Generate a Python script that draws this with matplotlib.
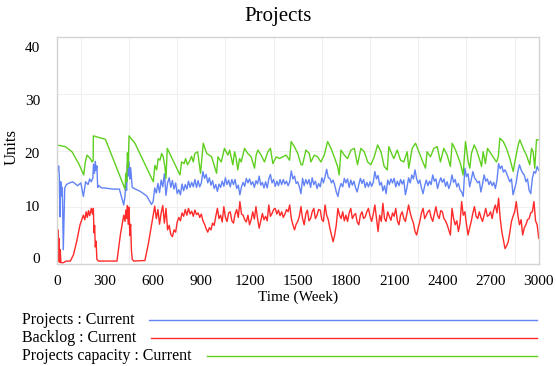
import numpy as np
import matplotlib
matplotlib.use("Agg")
import matplotlib.pyplot as plt
from matplotlib.lines import Line2D

plt.rcParams['font.family'] = ['Liberation Serif', 'DejaVu Serif']

# ---- data (time in weeks, value in units) ----
# start-up phase, irregular breakpoints
proj_t0 = [0, 3, 8, 12, 16, 20, 25, 30, 35, 41, 50, 60, 80, 100, 130, 150, 166, 180, 195, 205,
           215, 225, 229, 235, 240, 245, 250, 255, 262, 280, 300, 350, 390, 417, 425, 430, 435,
           440, 445, 450, 455, 460, 470, 490, 520, 560, 590]
proj_v0 = [12.0, 17.2, 16.5, 17.3, 15.5, 8.3, 14.5, 12.0, 13.5, 2.5, 13.4, 14.0, 14.3, 14.5, 13.8,
           14.3, 11.9, 14.5, 14.0, 15.0, 14.5, 15.2, 17.6, 16.0, 18.1, 16.5, 17.3, 13.5, 13.8,
           13.4, 13.4, 13.2, 13.2, 10.4, 12.0, 14.5, 13.0, 17.5, 15.5, 18.0, 15.0, 17.0, 13.5,
           13.2, 12.8, 12.0, 10.5]

back_t0 = [0, 3, 5, 8, 11, 14, 18, 22, 26, 40, 60, 85, 104, 124, 145, 166, 175, 183, 190, 198,
           205, 215, 222, 228, 232, 236, 240, 245, 250, 260, 375, 396, 417, 425, 430, 436, 440,
           445, 450, 455, 460, 465, 470, 480, 549, 570, 590]
back_v0 = [7.8, 5.5, 0.3, 6.0, 0.5, 4.5, 0.3, 2.5, 0.2, 0.2, 0.5, 0.5, 1.6, 3.9, 6.9, 8.6, 7.8,
           9.2, 8.2, 9.4, 8.5, 9.8, 8.8, 9.8, 5.5, 6.8, 3.0, 4.0, 0.8, 0.5, 0.5, 5.1, 8.6, 7.5,
           9.5, 8.0, 10.3, 7.0, 10.0, 5.0, 7.0, 2.5, 0.8, 0.5, 0.6, 3.5, 6.8]

# weeks 600..3000, every 10 weeks
proj_v1 = [11.0, 13.4, 12.5, 14.2, 12.6, 14.8, 13.6, 15.9, 12.1, 14.3,
           15.2, 13.5, 14.7, 13.2, 14.3, 12.4, 13.1, 12.2, 14.1, 12.9,
           14.0, 13.2, 14.6, 13.5, 14.4, 13.6, 14.9, 13.5, 14.7, 13.6,
           14.3, 16.3, 15.1, 15.8, 14.3, 15.2, 13.9, 14.7, 13.3, 14.0,
           12.8, 14.1, 13.5, 14.6, 13.7, 15.2, 14.0, 14.8, 13.6, 14.9,
           14.0, 14.9, 13.3, 13.9, 12.2, 13.6, 14.4, 13.7, 15.1, 14.3,
           15.0, 14.0, 14.5, 13.5, 14.7, 14.1, 15.5, 13.9, 14.4, 13.4,
           14.5, 13.4, 15.0, 15.8, 14.3, 14.9, 13.7, 14.6, 13.8, 14.9,
           14.0, 14.9, 14.1, 14.6, 13.8, 14.5, 16.4, 15.0, 15.5, 14.2,
           14.5, 13.6, 12.4, 15.1, 13.8, 14.9, 14.1, 14.9, 13.5, 15.2,
           14.0, 14.6, 13.3, 14.2, 13.6, 15.2, 14.3, 15.4, 16.7, 15.2,
           15.1, 14.3, 14.8, 13.9, 12.7, 11.9, 13.4, 14.2, 13.6, 15.1,
           14.3, 15.0, 13.5, 14.8, 13.9, 14.6, 13.4, 12.7, 14.0, 15.1,
           14.2, 14.9, 13.5, 14.4, 13.6, 14.5, 13.7, 14.4, 16.3, 15.0,
           15.6, 13.9, 14.4, 12.9, 13.8, 12.4, 14.8, 14.0, 15.0, 14.3,
           15.1, 13.6, 14.6, 13.8, 14.9, 14.1, 14.8, 12.2, 13.5, 15.2,
           14.3, 15.7, 15.0, 16.6, 15.0, 14.2, 14.8, 13.4, 12.4, 13.8,
           14.8, 13.8, 14.6, 14.0, 15.7, 14.6, 15.0, 13.3, 14.4, 15.2,
           14.4, 15.0, 13.7, 14.5, 13.3, 14.1, 15.7, 14.4, 14.9, 13.6,
           14.2, 13.1, 12.7, 11.9, 16.9, 15.4, 15.9, 13.6, 14.9, 16.3,
           15.2, 14.8, 14.3, 14.6, 12.7, 14.1, 15.7, 14.6, 15.0, 14.0,
           14.6, 13.8, 14.4, 13.3, 14.8, 17.7, 16.8, 17.3, 16.2, 16.6,
           16.0, 15.2, 14.5, 15.0, 12.2, 13.3, 14.4, 16.3, 17.5, 16.6,
           16.0, 15.7, 14.5, 15.0, 13.0, 12.4, 15.1, 16.3, 16.0, 17.2,
           16.5]
back_v1 = [8.4, 10.2, 8.0, 9.6, 7.0, 9.0, 10.3, 7.2, 9.8, 6.0,
           6.8, 5.2, 4.8, 6.0, 5.6, 7.4, 8.2, 7.6, 9.0, 8.4,
           9.6, 8.6, 9.8, 8.8, 9.3, 8.4, 9.5, 8.7, 9.0, 8.2,
           8.8, 7.6, 7.0, 6.2, 5.6, 6.4, 6.0, 7.2, 6.8, 8.4,
           9.8, 8.0, 8.6, 7.4, 10.1, 8.2, 7.5, 9.0, 9.2, 7.6,
           7.2, 8.8, 9.6, 8.2, 11.0, 8.8, 8.6, 7.8, 7.4, 8.6,
           6.9, 7.8, 9.2, 7.9, 10.1, 8.0, 6.3, 7.6, 8.9, 7.8,
           8.4, 7.6, 10.4, 8.4, 8.9, 9.6, 9.8, 8.8, 9.5, 8.5,
           9.2, 8.2, 8.8, 9.6, 9.2, 10.4, 8.0, 6.9, 6.0, 7.0,
           7.5, 8.4, 10.1, 8.0, 6.9, 8.8, 9.5, 7.6, 8.0, 9.2,
           9.8, 8.0, 8.6, 9.6, 9.5, 7.8, 7.5, 10.4, 8.6, 7.8,
           6.3, 5.1, 3.9, 5.1, 6.9, 9.8, 8.6, 8.0, 9.2, 7.6,
           8.6, 7.5, 9.0, 9.8, 8.0, 8.6, 8.9, 7.4, 6.9, 8.6,
           9.2, 8.0, 8.3, 9.2, 9.8, 8.4, 7.5, 8.8, 10.4, 8.0,
           5.7, 8.6, 7.5, 10.7, 8.0, 7.5, 9.2, 8.4, 7.7, 9.0,
           8.4, 9.8, 7.6, 6.9, 8.6, 9.2, 8.0, 7.5, 9.0, 10.4,
           9.0, 8.0, 7.2, 5.7, 5.1, 6.4, 7.5, 9.0, 9.8, 8.0,
           8.6, 9.2, 9.5, 8.2, 7.5, 8.8, 10.1, 8.6, 8.0, 9.4,
           9.2, 8.0, 7.6, 6.9, 6.0, 5.1, 9.8, 8.0, 6.9, 7.6,
           5.7, 7.2, 11.0, 8.6, 9.2, 7.0, 5.1, 6.4, 7.5, 9.0,
           10.1, 8.4, 8.0, 9.2, 8.2, 7.5, 8.6, 9.8, 8.4, 8.6,
           9.2, 8.0, 9.6, 10.4, 9.0, 11.6, 8.0, 5.7, 4.2, 2.7,
           3.2, 3.9, 5.6, 7.5, 8.4, 9.2, 11.0, 8.6, 6.9, 7.8,
           5.1, 6.4, 6.9, 7.8, 8.0, 9.0, 9.2, 11.0, 7.6, 6.9,
           4.5]
weeks1 = list(range(600, 3001, 10))

cap_t = [0, 54, 95, 137, 168, 178, 189, 199, 209, 220, 227, 228, 303, 425, 430, 436, 440, 445,
         450, 487, 601,
         611, 622, 632, 643, 653, 663, 674, 680, 688, 767, 777, 793, 802, 814, 829, 839, 850,
         860, 877, 891, 895, 912, 933, 964, 995,
         1003, 1024, 1044, 1065, 1076, 1096, 1107, 1117, 1127, 1138, 1148, 1169, 1189, 1210,
         1231, 1241, 1252, 1272, 1293, 1314, 1330, 1345, 1366, 1386, 1407, 1428, 1449, 1459,
         1479, 1500, 1521, 1530, 1551, 1572, 1582, 1603, 1624, 1644, 1665, 1686, 1707, 1727,
         1748, 1758, 1769, 1790, 1810, 1831, 1852, 1872, 1893, 1914, 1935, 1955, 1976, 1997,
         2018, 2038, 2057, 2067, 2088, 2098, 2119, 2140, 2160, 2181, 2191, 2212, 2233, 2254,
         2274, 2295, 2305, 2326, 2347, 2368, 2388, 2409, 2430, 2450, 2461, 2482, 2513, 2529,
         2544, 2561, 2571, 2581, 2598, 2613, 2633, 2644, 2654, 2668, 2681, 2702, 2722, 2737,
         2748, 2758, 2779, 2799, 2820, 2841, 2851, 2872, 2882, 2903, 2923, 2944, 2955, 2965,
         2975, 2986, 3000]
cap_v = [21.0, 20.7, 19.8, 17.7, 15.7, 18.0, 19.2, 18.9, 18.6, 18.0, 18.2, 22.6, 22.0, 13.2,
         16.0, 14.5, 19.6, 17.0, 22.6, 21.3, 14.5,
         17.4, 16.6, 18.6, 18.3, 19.5, 18.9, 17.0, 15.1, 20.4, 15.7, 18.0, 17.7, 18.6, 17.5,
         18.3, 19.0, 18.0, 19.5, 19.8, 16.9, 16.0, 21.3, 19.5, 18.9, 16.0,
         18.9, 18.0, 20.4, 19.2, 20.1, 17.5, 19.8, 18.6, 16.6, 18.6, 18.0, 20.4, 19.5, 18.9,
         16.9, 19.2, 20.1, 19.2, 18.0, 19.8, 20.4, 17.7, 18.9, 18.6, 18.9, 19.2, 18.3, 21.6,
         20.7, 19.5, 17.5, 17.5, 20.1, 19.5, 18.0, 19.2, 18.9, 18.0, 19.2, 21.6, 20.4, 18.9,
         17.2, 15.7, 20.1, 19.2, 18.6, 20.1, 20.4, 17.5, 20.4, 19.8, 18.0, 17.5, 18.9, 21.0,
         19.8, 17.2, 16.6, 20.7, 19.2, 18.6, 20.1, 18.3, 18.0, 19.8, 16.9, 20.4, 21.3, 19.8,
         18.3, 16.9, 19.8, 18.9, 20.4, 20.7, 18.0, 20.4, 19.2, 17.2, 21.3, 20.1, 17.7, 15.7,
         21.6, 18.0, 16.9, 19.5, 21.0, 20.1, 18.3, 17.2, 19.8, 17.7, 20.4, 19.5, 18.6, 18.0,
         18.9, 22.2, 21.6, 20.4, 18.6, 16.3, 18.0, 21.0, 21.9, 20.4, 19.2, 17.5, 20.4, 19.8,
         16.9, 21.9, 21.9]

proj_t = proj_t0 + weeks1
proj_v = proj_v0 + proj_v1
back_t = back_t0 + weeks1
back_v = back_v0 + back_v1

series_names = ["Projects : Current", "Backlog : Current", "Projects capacity : Current"]
series_colors = ["#6283f5", "#ff2a2a", "#5fcf1f"]

x_ticks = list(range(0, 3001, 300))
y_tick_labels = ["0", "10", "20", "30", "40"]
# the y labels in the picture sit slightly off the grid values
y_tick_pos = [0.97, 10.25, 19.63, 28.93, 38.33]

# ---- figure ----
fig = plt.figure(figsize=(5.56, 3.66), dpi=100)
ax = fig.add_axes([0.102, 0.279, 0.867, 0.619])

ax.plot(proj_t, proj_v, color=series_colors[0], lw=1.0)
ax.plot(back_t, back_v, color=series_colors[1], lw=1.0)
ax.plot(cap_t, cap_v, color=series_colors[2], lw=1.0)

ax.set_xlim(0, 3000)
ax.set_ylim(0, 40)
ax.set_xticks(x_ticks)
ax.set_xticks(range(0, 3001, 150), minor=True)
ax.set_yticks(y_tick_pos)
ax.set_yticklabels(y_tick_labels)
ax.set_yticks([10, 20, 30], minor=True)
ax.tick_params(which='both', length=0, labelsize=11, colors='black')
ax.tick_params(axis='y', pad=12)
ax.tick_params(axis='x', pad=8)
ax.grid(False)
ax.grid(which='minor', color='#f0f0f0', lw=0.8)
ax.set_axisbelow(True)
for s in ax.spines.values():
    s.set_color('#d4d4d4')
    s.set_linewidth(1.0)

fig.text(0.5, 0.955, "Projects", ha='center', va='center', fontsize=15)
ax.set_xlabel("Time (Week)", fontsize=11, labelpad=2)
fig.text(0.021, 0.598, "Units", rotation=90, ha='center', va='center', fontsize=12)

# legend drawn under the chart, one row per series
leg_y = [0.126, 0.077, 0.028]
line_x0 = [0.268, 0.272, 0.372]
for name, col, yy, x0 in zip(series_names, series_colors, leg_y, line_x0):
    fig.text(0.04, yy, name, ha='left', va='center', fontsize=11.5)
    fig.add_artist(Line2D([x0, 0.966], [yy, yy], color=col, lw=1.0,
                          transform=fig.transFigure))

fig.savefig("out.png", dpi=100)
